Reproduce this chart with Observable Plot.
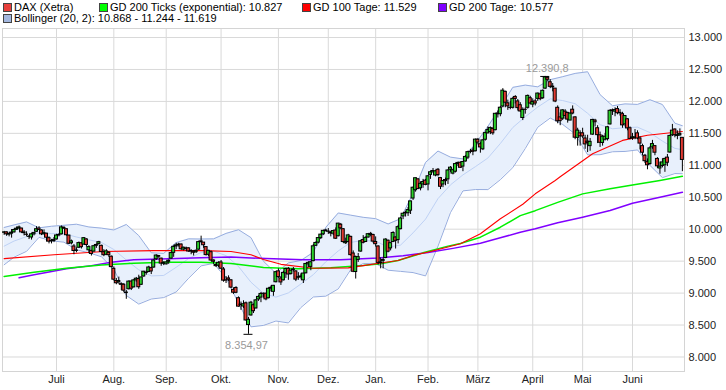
<!DOCTYPE html>
<html><head><meta charset="utf-8">
<script src="https://cdn.jsdelivr.net/npm/d3@7"></script>
<script src="https://cdn.jsdelivr.net/npm/@observablehq/plot@0.6"></script>
<style>
body{margin:0;background:#fff;font-family:"Liberation Sans",Arial,sans-serif;}
#legend{position:relative;width:726px;height:26px;font-size:11px;color:#000;}
.li{position:absolute;white-space:nowrap;line-height:12px;}
.sw{position:absolute;width:7px;height:7px;border:1px solid #444;}
#chart svg{display:block;}
</style></head><body>
<div id="legend"></div>
<div id="chart"></div>
<script>
// ---- Candles (trading days from June 2, 2014 to June 29, 2015) ----
const open = [
9945,9950,9915,9930,9950,9990,10010,10010,9950,9915,9880,9870,9920,9960,10010,9980,9920,9930,9860,9810,9815,
9840,9910,9920,10020,10000,9900,9780,9730,9660,9710,9780,9760,9840,9670,9660,9650,9740,9770,9740,9640,9600,9630,9570,
9380,9190,9170,9140,9130,9000,9060,9180,9090,9200,9220,9130,9260,9320,9330,9390,9400,9530,9580,9540,9460,
9450,9490,9540,9630,9730,9750,9760,9680,9700,9700,9650,9650,9640,9680,9810,9790,9720,9600,9640,9510,9440,9430,
9480,9370,9200,9230,9200,9050,9080,8920,8820,8790,8840,8500,8650,8810,8760,8900,8930,8990,8990,8920,9070,9020,9170,
9340,9230,9200,9310,9380,9300,9360,9340,9240,9260,9200,9310,9450,9410,9500,9740,9790,9860,9920,9970,
9960,9950,9930,9980,9890,10070,10000,9780,9800,9880,9620,9330,9520,9650,9830,9800,9870,9910,9910,
9800,9730,9480,9500,9550,9820,9700,9800,9870,9830,10000,10200,10250,10250,10290,10480,10610,10780,10640,10700,10760,
10700,10850,10890,10840,10930,10800,10700,10770,10780,10930,10870,10900,11020,11040,10980,11060,11120,11210,11230,11220,
11400,11330,11250,11400,11500,11520,11570,11550,11810,11800,11920,12150,11970,11900,11900,12070,12000,11940,11740,11870,11900,12050,
11950,12000,12040,12110,12050,12200,12370,12300,12220,12200,11900,11750,11730,11840,11820,11700,11870,11750,11430,11500,
11500,11420,11370,11300,11480,11700,11580,11470,11350,11400,11410,11640,11860,11840,11880,11820,11800,11640,11720,11580,
11420,11430,11500,11420,11300,11150,11050,11020,11280,11300,11100,10950,10990,11000,11120,11200,11470,11560,11460,11470,11430
];
const high = [
9966,9960,9937,9995,10004,10033,10050,10015,9980,9960,9900,9935,9945,10040,10040,9990,9990,9935,9880,9840,9870,
9920,9930,10050,10040,10005,9905,9830,9760,9710,9800,9790,9870,9850,9740,9670,9740,9770,9810,9750,9680,9680,9650,9580,
9410,9230,9250,9160,9150,9040,9190,9190,9210,9245,9280,9250,9340,9345,9420,9400,9520,9600,9590,9545,9490,
9490,9520,9640,9740,9780,9780,9770,9720,9720,9710,9680,9660,9680,9810,9891,9790,9720,9670,9660,9520,9470,9490,
9510,9400,9260,9270,9210,9080,9100,8940,8860,8880,8860,8620,8870,8830,8900,8960,9010,9000,9000,9080,9110,9120,9340,
9380,9260,9340,9390,9400,9360,9400,9345,9320,9300,9310,9460,9490,9490,9760,9800,9870,9920,9980,10000,
10010,9960,9980,10020,10093,10090,10010,9860,9920,9890,9660,9580,9620,9820,9900,9880,9930,9950,9920,
9880,9740,9550,9550,9850,9830,9790,9960,9880,10060,10190,10250,10280,10340,10440,10660,10800,10790,10740,10780,10780,
10840,10910,10950,10920,10950,10810,10760,10800,10930,10980,10940,11030,11050,11050,11060,11150,11220,11250,11270,11410,
11420,11360,11400,11520,11600,11600,11590,11810,11850,11920,12200,12160,12020,12000,12060,12090,12030,11980,11900,11900,12100,12080,
12040,12030,12130,12130,12180,12391,12390,12340,12280,12200,11930,11820,11870,11870,11830,11820,11930,11760,11580,11540,
11580,11470,11470,11420,11720,11720,11620,11520,11470,11500,11610,11870,11880,11900,11920,11870,11830,11780,11730,11600,
11500,11560,11540,11450,11330,11170,11100,11290,11390,11310,11120,11050,11100,11110,11170,11470,11640,11570,11540,11570,11430
];
const low = [
9905,9888,9880,9860,9940,9985,9990,9935,9895,9885,9838,9830,9895,9950,9980,9900,9910,9800,9770,9770,9790,
9830,9880,9910,9995,9890,9760,9755,9600,9630,9700,9690,9750,9720,9620,9580,9640,9700,9750,9630,9570,9590,9560,9390,
9190,9130,9140,9040,9010,8903,9050,9040,9080,9170,9060,9120,9250,9280,9320,9290,9390,9510,9545,9420,9430,
9440,9450,9530,9560,9680,9720,9670,9660,9660,9640,9600,9580,9620,9670,9780,9700,9580,9570,9490,9450,9400,9400,
9370,9170,9150,9180,9070,8980,8990,8780,8730,8760,8560,8355,8640,8680,8750,8870,8850,8920,8880,8910,9020,8950,9160,
9230,9120,9190,9230,9200,9280,9330,9180,9200,9220,9150,9300,9400,9350,9490,9730,9770,9840,9900,9960,
9920,9880,9900,9840,9880,9990,9780,9760,9790,9580,9320,9220,9480,9640,9770,9790,9860,9880,9780,
9720,9440,9380,9380,9540,9630,9660,9790,9690,9770,9990,10150,10190,10200,10230,10450,10580,10620,10600,10640,10680,
10600,10780,10880,10820,10820,10620,10650,10680,10700,10890,10850,10880,10980,10950,10900,11050,11090,11180,11150,11210,
11320,11190,11230,11380,11490,11480,11470,11540,11740,11760,11900,11900,11860,11870,11880,11960,11850,11830,11700,11800,11880,11950,
11900,11930,12000,12010,12030,12190,12310,12200,12150,11980,11650,11620,11700,11720,11660,11700,11790,11400,11300,11300,
11420,11250,11200,11220,11470,11600,11340,11280,11300,11380,11380,11630,11780,11760,11790,11770,11580,11600,11540,11400,
11390,11400,11400,11240,11150,11030,10930,11000,11250,11150,10950,10860,10960,10890,10980,11190,11450,11430,11400,11450,10900
];
const close = [
9950,9920,9928,9947,9987,10008,10028,9950,9938,9912,9883,9920,9942,10000,9987,9920,9938,9867,9805,9815,9833,
9902,9902,10029,10009,9906,9772,9809,9659,9666,9783,9719,9860,9753,9720,9612,9734,9753,9797,9644,9593,9653,9593,9407,
9210,9154,9189,9130,9038,9009,9180,9069,9199,9225,9092,9245,9335,9315,9401,9339,9510,9588,9569,9462,9470,
9479,9507,9626,9724,9747,9758,9686,9710,9691,9651,9659,9632,9661,9798,9799,9749,9595,9661,9510,9490,9422,9474,
9382,9195,9196,9209,9086,9006,9005,8788,8812,8825,8572,8582,8850,8717,8886,8940,8987,8988,8902,9068,9083,9114,9327,
9251,9167,9316,9377,9291,9351,9370,9211,9249,9252,9306,9456,9473,9483,9732,9785,9861,9915,9974,9980,
9963,9934,9971,9851,10087,10014,9799,9799,9903,9594,9334,9564,9563,9811,9787,9865,9922,9927,9806,
9765,9473,9469,9518,9838,9648,9781,9941,9818,10032,10168,10242,10257,10299,10435,10649,10798,10628,10710,10738,10694,
10828,10891,10911,10905,10847,10664,10753,10752,10919,10963,10924,11019,11037,10961,11051,11131,11206,11211,11211,11402,
11356,11280,11390,11504,11551,11583,11500,11806,11799,11901,12168,11980,11922,11899,12040,12039,11895,11843,11865,11868,12086,11967,
11989,11967,12123,12035,12166,12375,12339,12228,12231,11998,11689,11691,11860,11773,11715,11810,11811,11432,11543,11454,
11452,11327,11351,11367,11710,11674,11472,11352,11447,11447,11595,11853,11848,11864,11815,11815,11625,11771,11577,11413,
11437,11437,11419,11340,11197,11064,11001,11265,11332,11197,10984,10979,11045,11100,11040,11460,11542,11471,11472,11492,11084
];

// ---- Bollinger (20, 2), read at sampled trading days ----
const bbIdx = [0,4,9,14,19,24,29,34,39,44,49,54,59,64,69,74,79,84,89,94,99,104,109,114,119,124,129,134,139,144,149,154,159,164,169,174,179,184,189,194,199,204,209,214,219,224,229,234,239,244,249,254,259,264,269,272];
const bbUpper = [10027,10067,10114,10021,10046,10061,10078,10035,10017,9988,10074,9900,9631,9622,9790,9849,9846,9849,9934,9992,9868,9498,9311,9473,9510,9639,10028,10254,10220,10186,10165,10082,10164,10565,11045,11223,11128,11100,11337,11608,11907,12220,12255,12228,12340,12387,12438,12464,12106,11932,11961,11953,12026,11951,11659,11619];
const bbMiddle = [9735,9815,9884,9947,9932,9929,9878,9833,9793,9682,9518,9364,9269,9276,9404,9541,9636,9657,9586,9416,9170,8996,8937,9003,9142,9289,9490,9660,9794,9824,9813,9720,9752,9943,10157,10479,10694,10850,10979,11114,11341,11592,11759,11912,12040,12013,11964,11814,11636,11572,11589,11597,11512,11379,11265,11244];
const bbLower = [9443,9563,9654,9873,9818,9797,9678,9631,9569,9376,8962,8828,8907,8930,9018,9233,9426,9465,9238,8840,8472,8494,8563,8533,8774,8939,8952,9066,9368,9462,9461,9358,9340,9321,9269,9735,10260,10600,10621,10620,10775,10964,11263,11596,11740,11639,11490,11164,11166,11212,11217,11241,10998,10807,10871,10868];

// ---- Moving averages (read at sampled trading days) ----
const gd100Idx = [0,20,40,60,80,91,99,104,111,124,138,144,151,158,164,171,178,183,191,199,208,213,221,223,236,248,258,272];
const gd100Val = [9540,9600,9650,9665,9665,9650,9600,9525,9450,9390,9395,9430,9470,9510,9590,9650,9720,9771,9928,10163,10390,10554,10762,10820,11180,11390,11470,11529];
const emaIdx = [0,12,25,39,52,65,79,91,104,118,131,144,151,158,168,178,183,191,199,207,213,222,232,243,252,263,272];
const emaVal = [9260,9327,9390,9440,9466,9484,9484,9465,9400,9382,9396,9432,9460,9510,9630,9735,9775,9875,10031,10213,10290,10420,10553,10632,10690,10762,10827];
const gd200Idx = [6,12,25,35,43,52,66,79,91,105,120,135,150,160,170,180,191,199,207,213,222,232,243,252,263,272];
const gd200Val = [9240,9286,9380,9430,9484,9521,9537,9552,9565,9540,9520,9520,9550,9585,9635,9700,9781,9865,9953,10006,10100,10188,10292,10407,10500,10577];

// ---- Axes / annotations / legend ----
const monthIdx = [21,44,65,87,110,130,149,170,190,212,232,252];
const monthLabels = ["Juli","Aug.","Sep.","Okt.","Nov.","Dez.","Jan.","Feb.","März","April","Mai","Juni"];
const yTicks = [8000,8500,9000,9500,10000,10500,11000,11500,12000,12500,13000];
const extremeIdx = [217, 98];
const extremeVal = [12390.75, 8354.97];
const extremeLabel = ["12.390,8", "8.354,97"];
const legendLabels = ["DAX (Xetra)","GD 200 Ticks (exponential): 10.827","GD 100 Tage: 11.529","GD 200 Tage: 10.577","Bollinger (20, 2): 10.868 - 11.244 - 11.619"];
const legendColors = ["#e8403c","#00ff00","#ff0000","#8000ff","#a3b7df"];

// legend (HTML, above the SVG)
const legendPos = [[3,3],[99,3],[302,3],[438,3],[3,14]];
const lg = document.getElementById("legend");
legendLabels.forEach((t, k) => {
  const [x, y] = legendPos[k];
  const s = document.createElement("div");
  s.className = "sw"; s.style.left = x + "px"; s.style.top = y + "px"; s.style.background = legendColors[k];
  lg.appendChild(s);
  const l = document.createElement("div");
  l.className = "li"; l.style.left = (x + 11) + "px"; l.style.top = (y - 2) + "px"; l.textContent = t;
  lg.appendChild(l);
});

const candles = close.map((c, i) => ({i, o: open[i], h: high[i], l: low[i], c}));
const bb = bbIdx.map((i, k) => ({i, u: bbUpper[k], m: bbMiddle[k], l: bbLower[k]}));
const gd100 = gd100Idx.map((i, k) => ({i, v: gd100Val[k]}));
const ema = emaIdx.map((i, k) => ({i, v: emaVal[k]}));
const gd200 = gd200Idx.map((i, k) => ({i, v: gd200Val[k]}));
const extremes = extremeIdx.map((i, k) => ({i, v: extremeVal[k], t: extremeLabel[k]}));
const de = d3.formatLocale({decimal: ",", thousands: ".", grouping: [3], currency: ["", ""]}).format(",d");
const monthName = new Map(monthIdx.map((d, k) => [d, monthLabels[k]]));

const chart = Plot.plot({
  width: 726, height: 364,
  marginTop: 2, marginBottom: 19, marginLeft: 2, marginRight: 42,
  x: {type: "linear", domain: [-0.65, 272.85], label: null},
  y: {domain: [7773, 13141], label: null},
  color: {type: "identity"},
  style: {fontFamily: "'Liberation Sans', Arial, sans-serif", fontSize: "11px", color: "#222", background: "#fff"},
  marks: [
    Plot.gridY(yTicks, {stroke: "#d9d9d9", strokeOpacity: 1}),
    Plot.gridX(monthIdx, {stroke: "#d9d9d9", strokeOpacity: 1}),
    Plot.frame({stroke: "#d4d4d4"}),
    Plot.areaY(bb, {x: "i", y1: "l", y2: "u", fill: "#e8f0fc", clip: true}),
    Plot.lineY(bb, {x: "i", y: "m", stroke: "#bfd2f5", strokeWidth: 1, clip: true}),
    Plot.lineY(bb, {x: "i", y: "u", stroke: "#97addf", strokeWidth: 1, clip: true}),
    Plot.lineY(bb, {x: "i", y: "l", stroke: "#97addf", strokeWidth: 1, clip: true}),
    Plot.lineY(gd200, {x: "i", y: "v", stroke: "#8000ff", strokeWidth: 1.5, clip: true}),
    Plot.lineY(ema, {x: "i", y: "v", stroke: "#00f000", strokeWidth: 1.5, clip: true}),
    Plot.lineY(gd100, {x: "i", y: "v", stroke: "#ff0000", strokeWidth: 1.1, clip: true}),
    Plot.ruleX(candles, {x: "i", y1: "l", y2: "h", stroke: "#000", strokeWidth: 1, clip: true}),
    Plot.rect(candles, {x1: d => d.i - 0.6, x2: d => d.i + 0.6, y1: "o", y2: "c",
      fill: d => d.c >= d.o ? "#2ad12a" : "#e23a32", stroke: "#000", strokeWidth: 1, clip: true}),
    Plot.ruleY(extremes, {y: "v", x1: d => d.i - 1.8, x2: d => d.i + 1.8, stroke: "#000", strokeWidth: 1}),
    Plot.text(extremes.filter(d => d.i === extremeIdx[0]), {x: "i", y: "v", text: "t", dy: -8, dx: 2, fill: "#9a9a9a", fontSize: 11}),
    Plot.text(extremes.filter(d => d.i === extremeIdx[1]), {x: "i", y: "v", text: "t", dy: 11, dx: -2, fill: "#9a9a9a", fontSize: 11}),
    Plot.axisY(yTicks, {anchor: "right", tickSize: 0, tickPadding: 4, tickFormat: de, fontSize: 11}),
    Plot.axisX(monthIdx, {anchor: "bottom", tickSize: 0, tickPadding: 4, tickFormat: d => monthName.get(d), fontSize: 11})
  ]
});
document.getElementById("chart").appendChild(chart);
</script></body></html>
